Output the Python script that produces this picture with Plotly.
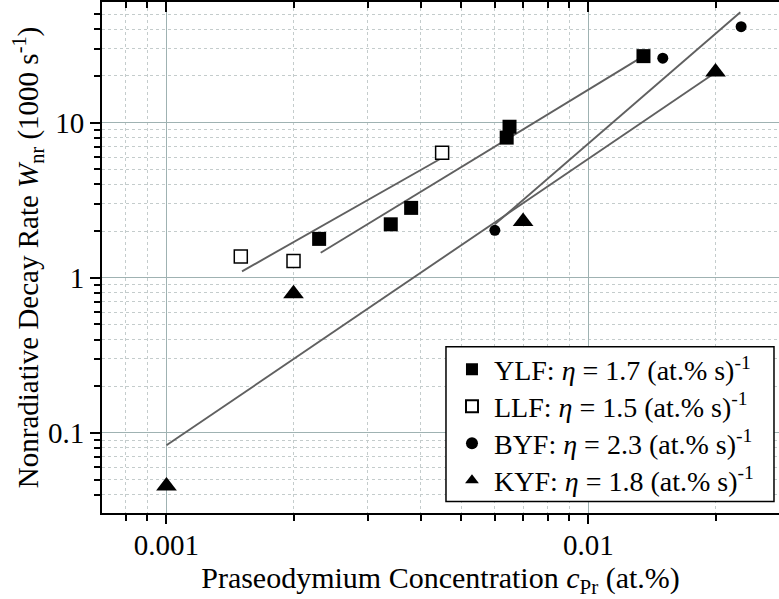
import numpy as np
import plotly.graph_objects as go

# ---- data ----
ylf_c = [0.0023, 0.0034, 0.0038, 0.0064, 0.0065, 0.0135]
ylf_w = [1.78, 2.21, 2.82, 8.0, 9.4, 26.8]

llf_c = [0.0015, 0.0020, 0.0045]
llf_w = [1.37, 1.28, 6.4]

byf_c = [0.0060, 0.0150, 0.0230]
byf_w = [2.02, 26.0, 41.5]

kyf_c = [0.0010, 0.0020, 0.0070, 0.0200]
kyf_w = [0.0455, 0.79, 2.3, 21.2]

# fit line end points
ylf_fit_c = [0.00232, 0.01347]
ylf_fit_w = [1.45, 26.7]
llf_fit_c = [0.00151, 0.00444]
llf_fit_w = [1.10, 5.8]
byf_fit_c = [0.0060, 0.0229]
byf_fit_w = [2.21, 51.4]
kyf_fit_c = [0.0010, 0.0200]
kyf_fit_w = [0.0832, 21.0]

legend_names = [
    "YLF: <i>η</i> = 1.7 (at.% s)<sup>-1</sup>",
    "LLF: <i>η</i> = 1.5 (at.% s)<sup>-1</sup>",
    "BYF: <i>η</i> = 2.3 (at.% s)<sup>-1</sup>",
    "KYF: <i>η</i> = 1.8 (at.% s)<sup>-1</sup>",
]

x_tickvals = [0.001, 0.01]
x_ticktext = ["0.001", "0.01"]
y_tickvals = [0.1, 1, 10]
y_ticktext = ["0.1", "1", "10"]

FONT = "Liberation Serif, Times New Roman, serif"
LINE_COL = "#606060"
MAJ_GRID = "#9fb2b2"
MIN_GRID = "#c4cccc"

x_range = [-3.1528, -1.5485]
y_range = [-1.516, 1.777]

x_minor = [m * 10.0 ** e for e in range(-4, 0) for m in range(2, 10)]
y_minor = [m * 10.0 ** e for e in range(-2, 2) for m in range(2, 10)]

# legend layout (paper coordinates)
LEG_BOX = dict(x0=0.5081, x1=0.9926, y0=0.0225, y1=0.3255)
LEG_X = 0.514
LEG_ROWS = [0.2805, 0.2082, 0.1359, 0.0635]

fig = go.Figure()

for fc, fw in [(ylf_fit_c, ylf_fit_w), (llf_fit_c, llf_fit_w),
               (byf_fit_c, byf_fit_w), (kyf_fit_c, kyf_fit_w)]:
    fig.add_trace(go.Scatter(x=fc, y=fw, mode="lines",
                             line=dict(color=LINE_COL, width=1.9),
                             showlegend=False, hoverinfo="skip"))

series = [
    (ylf_c, ylf_w, dict(symbol="square", size=14, color="black", line=dict(width=0))),
    (llf_c, llf_w, dict(symbol="square", size=13, color="white",
                        line=dict(width=1.5, color="black"))),
    (byf_c, byf_w, dict(symbol="circle", size=11, color="black", line=dict(width=0))),
    (kyf_c, kyf_w, dict(symbol="triangle-up", size=18, color="black", line=dict(width=0))),
]
leg_ids = ["legend", "legend2", "legend3", "legend4"]
for (cx, wy, mk), name, lid in zip(series, legend_names, leg_ids):
    fig.add_trace(go.Scatter(x=cx, y=wy, mode="markers", name=name,
                             marker=mk, legend=lid))

leg_common = dict(xanchor="left", yanchor="middle", bgcolor="rgba(0,0,0,0)",
                  borderwidth=0, font=dict(family=FONT, size=28, color="black"),
                  itemsizing="constant", itemwidth=34)
legends = {}
for lid, ry in zip(leg_ids, LEG_ROWS):
    legends[lid] = dict(x=LEG_X, y=ry, **leg_common)

fig.update_layout(
    width=779, height=599,
    margin=dict(l=102, r=0, t=2, b=86),
    paper_bgcolor="white", plot_bgcolor="white",
    font=dict(family=FONT, size=29, color="black"),
    showlegend=True,
    **legends,
    shapes=[dict(type="rect", xref="paper", yref="paper", layer="above",
                 fillcolor="white", line=dict(color="black", width=1.5),
                 **LEG_BOX)],
    xaxis=dict(type="log", range=x_range,
               tickvals=x_tickvals, ticktext=x_ticktext,
               ticks="outside", ticklen=9, tickwidth=2, tickcolor="black",
               ticklabelstandoff=-4,
               showline=True, linewidth=2, linecolor="black",
               showgrid=True, gridcolor=MAJ_GRID, gridwidth=1.2,
               zeroline=False,
               minor=dict(tickvals=x_minor, ticks="outside", ticklen=6,
                          tickwidth=1.5, tickcolor="black", showgrid=True,
                          gridcolor=MIN_GRID, gridwidth=1, griddash="dot"),
               title=dict(text="Praseodymium Concentration <i>c</i><sub>Pr</sub> (at.%)",
                          font=dict(family=FONT, size=30), standoff=9)),
    xaxis2=dict(type="log", range=x_range, overlaying="x", side="top",
                tickvals=x_tickvals, showticklabels=False,
                ticks="inside", ticklen=10, tickwidth=2, tickcolor="black",
                showline=True, linewidth=2.5, linecolor="black",
                showgrid=False, zeroline=False,
                minor=dict(tickvals=x_minor, ticks="inside", ticklen=6,
                           tickwidth=1.5, tickcolor="black", showgrid=False)),
    yaxis=dict(type="log", range=y_range,
               tickvals=y_tickvals, ticktext=y_ticktext,
               ticks="outside", ticklen=10, tickwidth=2, tickcolor="black",
               showline=True, linewidth=2, linecolor="black",
               showgrid=True, gridcolor=MAJ_GRID, gridwidth=1.2,
               zeroline=False,
               minor=dict(tickvals=y_minor, ticks="outside", ticklen=6,
                          tickwidth=1.5, tickcolor="black", showgrid=True,
                          gridcolor=MIN_GRID, gridwidth=1, griddash="dot"),
               title=dict(text="Nonradiative Decay Rate <i>W</i><sub>nr</sub> (1000 s<sup>-1</sup>)",
                          font=dict(family=FONT, size=29), standoff=0)),
)

# dummy invisible trace to attach the top axis
fig.add_trace(go.Scatter(x=[None], y=[None], xaxis="x2", showlegend=False,
                         hoverinfo="skip"))

fig.write_html("out.html")
